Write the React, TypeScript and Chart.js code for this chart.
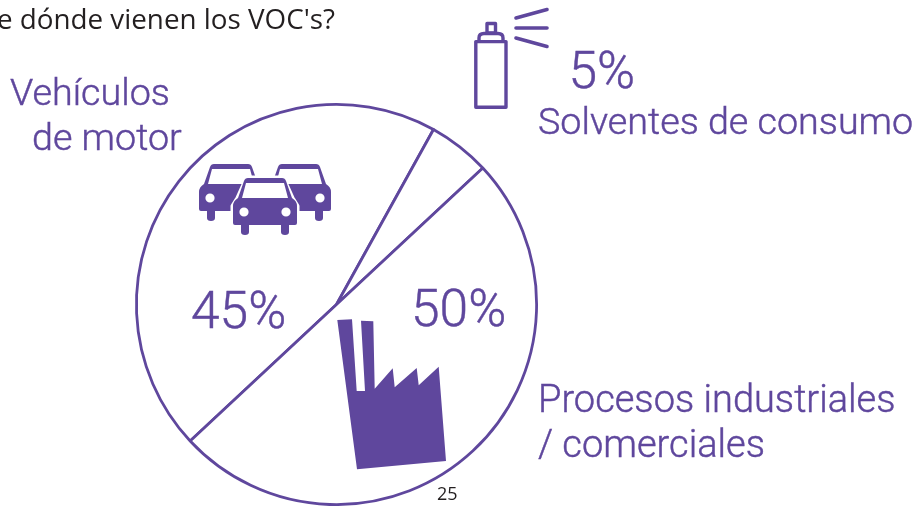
import React, { useEffect, useRef } from "react";
import { Chart, registerables } from "chart.js";

Chart.register(...registerables);

const PURPLE = "#5f479d";
const DARK = "#231f20";

const categories = ["Vehículos de motor", "Solventes de consumo", "Procesos industriales / comerciales"];
const values = [45, 5, 50];
const titleText = "¿De dónde vienen los VOC's?";
const pageNumber = "25";
const vehicleLines = ["Vehículos", "de motor"];
const solventLines = ["5%", "Solventes de consumo"];
const processLines = ["Procesos industriales", "/ comerciales"];
const pctVehicles = "45%";
const pctProcess = "50%";

function carPath(c: CanvasRenderingContext2D, x: number, y: number) {
  const p = new Path2D();
  p.moveTo(x + 15, y);
  p.lineTo(x + 49, y);
  p.quadraticCurveTo(x + 52, y, x + 53, y + 3);
  p.lineTo(x + 59, y + 20);
  p.quadraticCurveTo(x + 64, y + 23, x + 64, y + 28);
  p.lineTo(x + 64, y + 45);
  p.quadraticCurveTo(x + 64, y + 47, x + 62, y + 47);
  p.lineTo(x + 56, y + 47);
  p.lineTo(x + 56, y + 54);
  p.quadraticCurveTo(x + 56, y + 57, x + 52, y + 57);
  p.quadraticCurveTo(x + 48, y + 57, x + 48, y + 54);
  p.lineTo(x + 48, y + 47);
  p.lineTo(x + 16, y + 47);
  p.lineTo(x + 16, y + 54);
  p.quadraticCurveTo(x + 16, y + 57, x + 12, y + 57);
  p.quadraticCurveTo(x + 8, y + 57, x + 8, y + 54);
  p.lineTo(x + 8, y + 47);
  p.lineTo(x + 2, y + 47);
  p.quadraticCurveTo(x, y + 47, x, y + 45);
  p.lineTo(x, y + 28);
  p.quadraticCurveTo(x, y + 23, x + 5, y + 20);
  p.lineTo(x + 11, y + 3);
  p.quadraticCurveTo(x + 12, y, x + 15, y);
  p.closePath();
  p.moveTo(x + 13, y + 5);
  p.lineTo(x + 51, y + 5);
  p.lineTo(x + 55, y + 20);
  p.lineTo(x + 9, y + 20);
  p.closePath();
  p.moveTo(x + 16, y + 34);
  p.arc(x + 11, y + 34, 4.6, 0, Math.PI * 2);
  p.closePath();
  p.moveTo(x + 58, y + 34);
  p.arc(x + 53, y + 34, 4.6, 0, Math.PI * 2);
  p.closePath();
  c.fillStyle = PURPLE;
  c.fill(p, "evenodd");
}

function drawCars(c: CanvasRenderingContext2D) {
  carPath(c, 199, 164);
  carPath(c, 267, 164);
  c.save();
  c.beginPath();
  c.moveTo(233 + 14, 178);
  c.lineTo(233 + 50, 178);
  c.lineTo(233 + 59, 198);
  c.lineTo(233 + 64, 206);
  c.lineTo(233 + 64, 225);
  c.lineTo(233, 225);
  c.lineTo(233, 206);
  c.lineTo(233 + 5, 198);
  c.closePath();
  c.strokeStyle = "#ffffff";
  c.lineWidth = 5;
  c.lineJoin = "round";
  c.stroke();
  c.fillStyle = "#ffffff";
  c.fill();
  c.restore();
  carPath(c, 233, 178);
}

function drawFactory(c: CanvasRenderingContext2D) {
  const pts = [
    [337.3, 320], [352, 319.3], [356.7, 391], [365, 391], [361, 320.7], [373.3, 321.3],
    [374.7, 388.7], [392.7, 368.3], [394.7, 387.3], [416.7, 368], [418.7, 385.3],
    [438.7, 366.7], [446, 461], [357, 469.3],
  ];
  c.beginPath();
  pts.forEach(([x, y], i) => (i ? c.lineTo(x, y) : c.moveTo(x, y)));
  c.closePath();
  c.fillStyle = PURPLE;
  c.fill();
}

function drawSpray(c: CanvasRenderingContext2D) {
  c.save();
  c.strokeStyle = PURPLE;
  c.lineWidth = 3.4;
  c.lineJoin = "round";
  c.lineCap = "round";
  c.strokeRect(475.8, 41.6, 30.2, 65.6);
  c.beginPath();
  c.moveTo(479, 41);
  c.lineTo(479, 38);
  c.quadraticCurveTo(479, 33.5, 484, 33.5);
  c.lineTo(498, 33.5);
  c.quadraticCurveTo(503, 33.5, 503, 38);
  c.lineTo(503, 41);
  c.stroke();
  c.strokeRect(487, 23.5, 8.5, 9.5);
  c.lineWidth = 3.6;
  [[516, 18, 547, 9.5], [516, 28, 547, 28], [516, 38, 547, 46.5]].forEach(([a, b, d, e]) => {
    c.beginPath();
    c.moveTo(a, b);
    c.lineTo(d, e);
    c.stroke();
  });
  c.restore();
}

function label(c: CanvasRenderingContext2D, text: string, x: number, y: number) {
  c.fillText(text, x, y);
  c.strokeText(text, x, y);
}

const overlay = {
  id: "overlay",
  afterDraw(chart: Chart) {
    const c = chart.ctx;
    c.save();
    drawCars(c);
    drawFactory(c);
    drawSpray(c);
    c.textBaseline = "alphabetic";

    c.fillStyle = PURPLE;
    c.strokeStyle = PURPLE;
    c.lineWidth = 0.45;
    c.font = "300 37.7px Roboto";
    c.textAlign = "left";
    label(c, vehicleLines[0], 10, 105);
    label(c, vehicleLines[1], 32, 150);
    label(c, solventLines[1], 538, 134);
    c.font = "300 38px Roboto";
    label(c, processLines[0], 538, 412);
    label(c, processLines[1], 538, 457);
    c.font = "300 51.5px Roboto";
    label(c, solventLines[0], 568.5, 87.5);
    label(c, pctVehicles, 191, 327.5);
    label(c, pctProcess, 411, 326);

    c.fillStyle = DARK;
    c.font = "27.8px 'Open Sans'";
    c.textAlign = "right";
    c.fillText(titleText, 335, 29);
    c.font = "18px 'Open Sans'";
    c.textAlign = "left";
    c.fillText(pageNumber, 437, 500);
    c.restore();
  },
};

export default function App() {
  const ref = useRef<HTMLCanvasElement>(null);
  useEffect(() => {
    const chart = new Chart(ref.current!, {
      type: "pie",
      data: {
        labels: categories,
        datasets: [
          {
            data: values,
            backgroundColor: "#ffffff",
            borderColor: PURPLE,
            borderWidth: 2.8,
            borderAlign: "center",
          },
        ],
      },
      options: {
        responsive: false,
        animation: false,
        rotation: 227,
        layout: { padding: { left: 135, right: 378, top: 103, bottom: 0 } },
        plugins: { legend: { display: false }, tooltip: { enabled: false }, title: { display: false } },
      },
      plugins: [overlay],
    });
    return () => chart.destroy();
  }, []);
  return (
    <canvas
      ref={ref}
      width={916}
      height={506}
      style={{ position: "absolute", left: 0, top: 0, width: 916, height: 506, background: "#fff" }}
    />
  );
}
